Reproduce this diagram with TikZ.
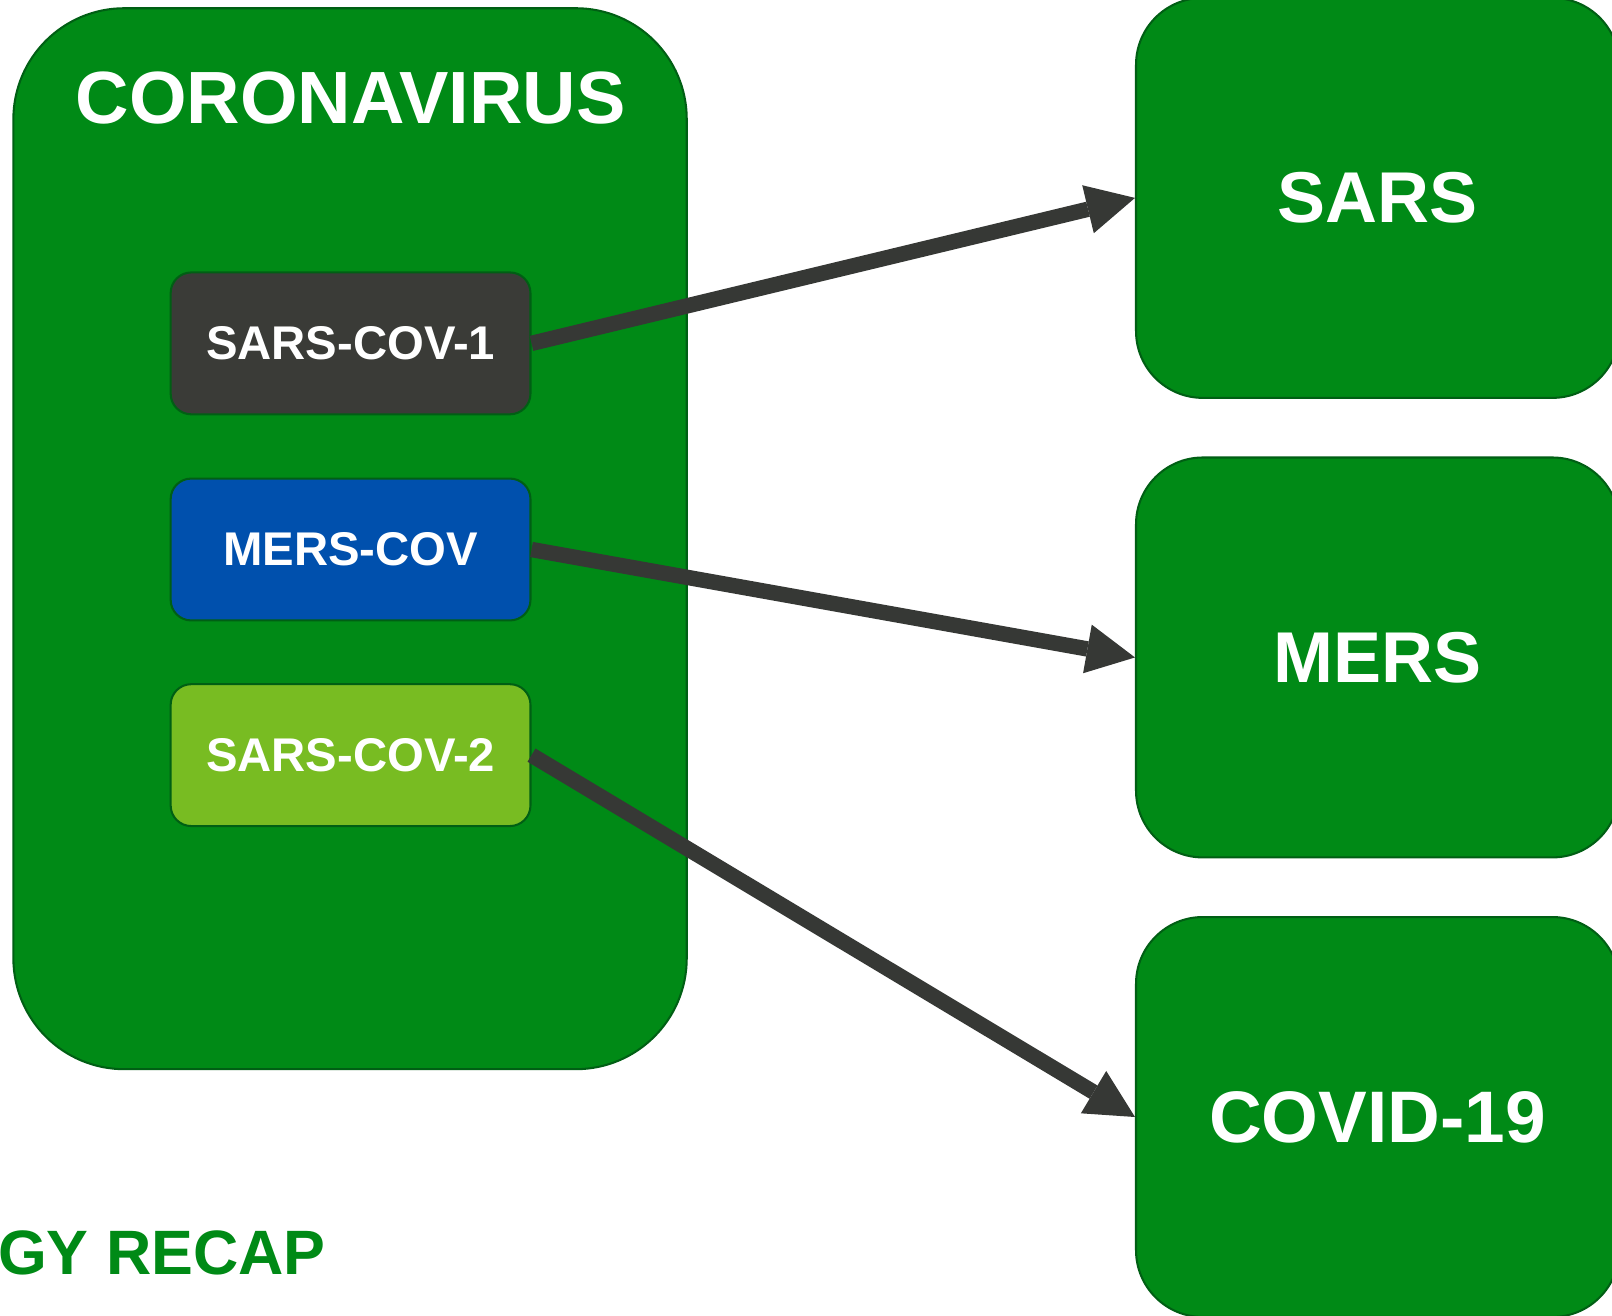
\documentclass[tikz,border=0pt]{standalone}
\usepackage{fontspec}
\setmainfont{Liberation Sans}
\usetikzlibrary{arrows.meta}
\definecolor{boxgreen}{RGB}{0,138,22}
\definecolor{edgegreen}{RGB}{0,95,20}
\definecolor{darkgray}{RGB}{58,59,55}
\definecolor{mersblue}{RGB}{0,80,173}
\definecolor{lightgreen}{RGB}{120,188,34}
\definecolor{arrowgray}{RGB}{54,56,53}
\tikzset{
  bigbox/.style={draw=edgegreen, line width=2pt, fill=boxgreen, rounded corners=108pt,
    minimum width=655pt, minimum height=1032pt, inner sep=0pt},
  rightbox/.style={draw=edgegreen, line width=2pt, fill=boxgreen, rounded corners=65pt,
    minimum width=470pt, minimum height=389pt, inner sep=0pt, text=white,
    font=\fontsize{70}{80}\selectfont\bfseries},
  subbox/.style={draw=edgegreen, line width=2pt, rounded corners=20pt,
    minimum width=350pt, minimum height=138pt, inner sep=0pt, text=white,
    font=\fontsize{46}{52}\selectfont\bfseries},
  link/.style={draw=arrowgray, line width=15pt,
    -{Triangle[length=47pt,width=48pt,line width=0pt]}},
}
\begin{document}
\begin{tikzpicture}[x=1pt,y=-1pt]
\clip (0,0) rectangle (1568,1280);
\fill[white] (0,0) rectangle (1568,1280);
% big container
\node[bigbox] (corona) at (340.5,524) {};
\node[text=white, font=\fontsize{72}{80}\selectfont\bfseries, inner sep=0pt] (title) at (341,95) {CORONAVIRUS};
% sub boxes
\node[subbox, fill=darkgray] (cov1) at (341,334) {SARS-COV-1};
\node[subbox, fill=mersblue] (mcov) at (341,534.5) {MERS-COV};
\node[subbox, fill=lightgreen] (cov2) at (341,734.5) {SARS-COV-2};
% right boxes
\node[rightbox] (sars) at (1340,192.5) {SARS};
\node[rightbox] (mers) at (1340,639.5) {MERS};
\node[rightbox, font=\fontsize{71}{80}\selectfont\bfseries] (covid) at (1340,1086.5) {COVID-19};
% connectors
\draw[link] (cov1.east) -- (sars.west);
\draw[link] (mcov.east) -- (mers.west);
\draw[link] (cov2.east) -- (covid.west);
% footer text
\node[anchor=base west, inner sep=0pt, text=boxgreen, font=\fontsize{61}{70}\selectfont\bfseries] (recap) at (-2,1240) {GY RECAP};
\end{tikzpicture}
\end{document}
